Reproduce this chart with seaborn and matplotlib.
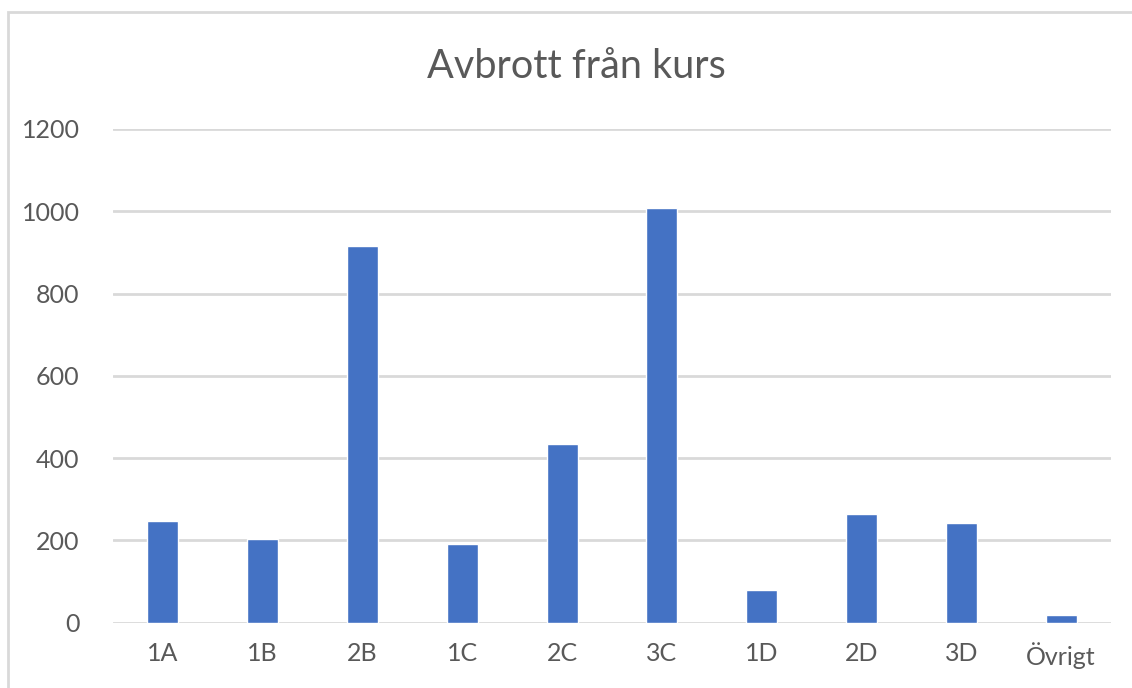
import matplotlib
matplotlib.use("Agg")
import matplotlib.pyplot as plt
import seaborn as sns
import pandas as pd
from matplotlib.patches import Rectangle

# data
kurser = ["1A", "1B", "2B", "1C", "2C", "3C", "1D", "2D", "3D", "Övrigt"]
avbrott = [247, 202, 915, 192, 435, 1007, 80, 265, 243, 18]
yticks = [0, 200, 400, 600, 800, 1000, 1200]

df = pd.DataFrame({"kurs": kurser, "avbrott": avbrott})

sns.set_style("white")
plt.rcParams["font.family"] = ["Lato", "DejaVu Sans"]

W, H = 1132, 688
fig = plt.figure(figsize=(W / 100, H / 100), dpi=100)
ax = fig.add_axes([113 / W, (H - 622.5) / H, (1111 - 113) / W, (622.5 - 129) / H])

sns.barplot(data=df, x="kurs", y="avbrott", color="#4472C4", width=0.31,
            saturation=1, ax=ax, zorder=3)

ax.set_ylim(0, 1200)
ax.set_xlim(-0.5, len(kurser) - 0.5)
ax.set_yticks(yticks)
ax.yaxis.grid(True, color="#d9d9d9", linewidth=2, zorder=0)
ax.set_axisbelow(True)
for s in ax.spines.values():
    s.set_visible(False)
ax.tick_params(axis="both", length=0, labelsize=18, labelcolor="#595959")
ax.tick_params(axis="y", pad=24)
ax.tick_params(axis="x", pad=14)
ax.set_xlabel("")
ax.set_ylabel("")

# chart frame (light gray border like the Excel chart area)
fig.patches.append(Rectangle((8 / W, -0.01), 1.2, (H - 12) / H + 0.01,
                             transform=fig.transFigure, fill=False,
                             edgecolor="#d9d9d9", linewidth=2))

fig.text(576 / W, (H - 67) / H, "Avbrott från kurs", ha="center", va="center",
         fontsize=28.5, color="#595959")

fig.savefig("out.png", dpi=100, facecolor="white")
